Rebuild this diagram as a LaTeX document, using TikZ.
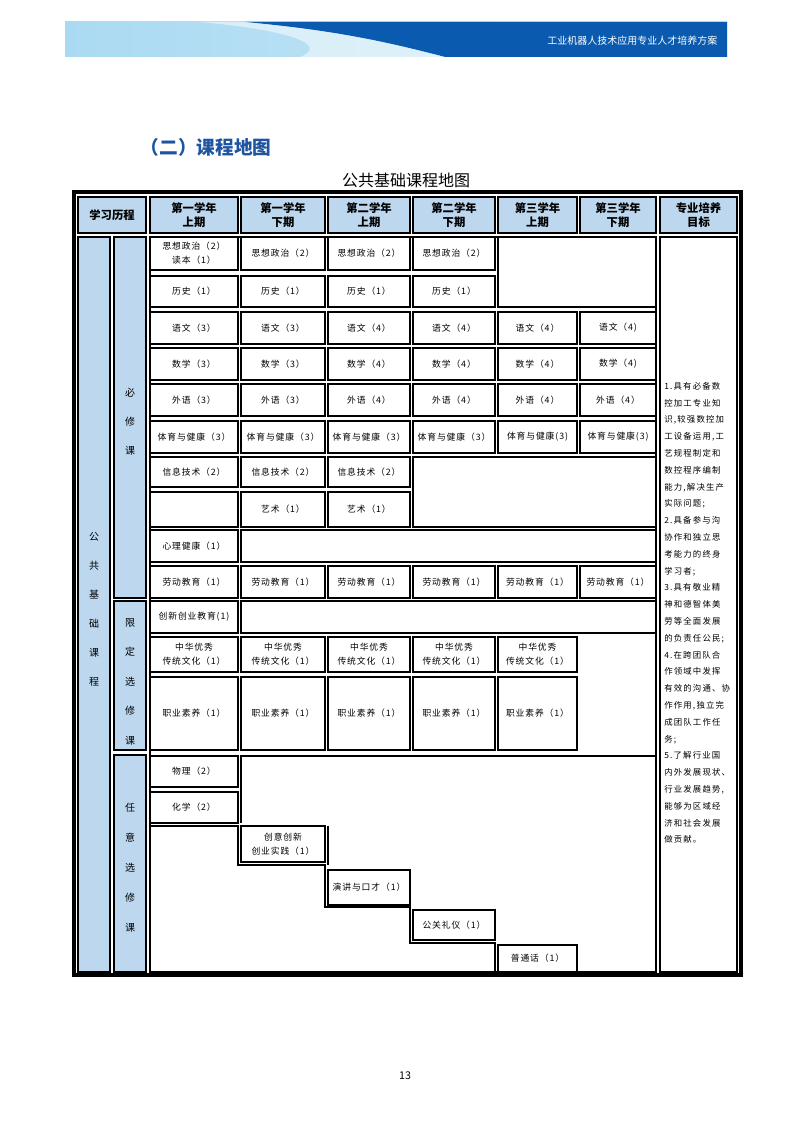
\documentclass[tikz,border=0pt]{standalone}
\usepackage{fontspec}
\setmainfont{Noto Sans CJK SC}
\newfontfamily\cjk{Noto Sans CJK SC}
\newfontfamily\cjksp[LetterSpace=10]{Noto Sans CJK SC}
\newfontfamily\cjkt[LetterSpace=14]{Noto Sans CJK SC}
\definecolor{hdr}{RGB}{189,215,238}
\definecolor{ttl}{RGB}{31,84,160}
\definecolor{dk}{RGB}{10,90,175}
\definecolor{lt}{RGB}{170,218,242}
\tikzset{
 cellbox/.style={draw=black,line width=1.3pt,fill=white,inner sep=0pt,align=center,font=\fontsize{6.6}{10.5}\selectfont\cjksp},
 hdrbox/.style={cellbox,fill=hdr,font=\fontsize{8.5}{10.5}\selectfont\bfseries},
 sidebox/.style={draw=black,line width=1.3pt,fill=hdr},
 sidetxt/.style={font=\fontsize{7.5}{9}\selectfont}
}
\newcommand{\cb}[6][cellbox]{\node[#1,minimum width={(#5-#3)*0.75pt},minimum height={(#6-#4)*0.75pt}] (#2) at ({(#3+#5)/2},{(#4+#6)/2}) {};}
\newcommand{\cbt}[7][cellbox]{\node[#1,minimum width={(#5-#3)*0.75pt},minimum height={(#6-#4)*0.75pt}] (#2) at ({(#3+#5)/2},{(#4+#6)/2}) {#7};}
\begin{document}
\begin{tikzpicture}[x=0.75pt,y=-0.75pt]
\useasboundingbox (0,0) rectangle (794,1123);
% banner
\fill[left color=lt,right color=lt!60] (65,22) rectangle (727,57);
\fill[dk] (245,22) .. controls (330,30) and (380,40) .. (445,57) -- (727,57) -- (727,22) -- cycle;
\fill[white,opacity=0.5] (245,22) .. controls (330,30) and (380,40) .. (445,57) -- (300,57) .. controls (330,45) and (290,30) .. (200,22) -- cycle;
\node[text=white,font=\fontsize{7.5}{9}\selectfont,anchor=east] (ban) at (722,41) {工业机器人技术应用专业人才培养方案};
\node[text=ttl,font=\fontsize{14}{16}\selectfont\bfseries,anchor=west] (t1) at (136,147) {（二）课程地图};
\node[font=\fontsize{12}{14}\selectfont,anchor=center] (t2) at (406,180) {公共基础课程地图};
\node[font=\fontsize{8}{10}\selectfont] (pg) at (405,1076) {13};
% frame
\draw[line width=2.5pt] (74,192) rectangle (741,975);
% header
\cbt[hdrbox]{h0}{78}{197}{146}{233}{学习历程}
\cbt[hdrbox]{h1}{150}{197}{238}{233}{第一学年\\上期}
\cbt[hdrbox]{h2}{241}{197}{325}{233}{第一学年\\下期}
\cbt[hdrbox]{h3}{328}{197}{410}{233}{第二学年\\上期}
\cbt[hdrbox]{h4}{413}{197}{495}{233}{第二学年\\下期}
\cbt[hdrbox]{h5}{498}{197}{577}{233}{第三学年\\上期}
\cbt[hdrbox]{h6}{580}{197}{656}{233}{第三学年\\下期}
\cbt[hdrbox]{h7}{660}{197}{737}{233}{专业培养\\目标}
% side columns
\cb[sidebox]{s0}{78}{237}{110}{972}
\cb[sidebox]{s1}{114}{237}{146}{598}
\cb[sidebox]{s2}{114}{601}{146}{750}
\cb[sidebox]{s3}{114}{755}{146}{972}
\draw[line width=1.3pt] (150,237) rectangle (656,972);
\foreach \c [count=\i] in {公,共,基,础,课,程} \node[sidetxt] (a\i) at (94,{508+29*\i}) {\c};
\foreach \c [count=\i] in {必,修,课} \node[sidetxt] (b\i) at (130,{364+29*\i}) {\c};
\foreach \c [count=\i] in {限,定,选,修,课} \node[sidetxt] (c\i) at (130,{593+29.5*\i}) {\c};
\foreach \c [count=\i] in {任,意,选,修,课} \node[sidetxt] (d\i) at (130,{778+30*\i}) {\c};
% target column
\cb{tg}{660}{237}{737}{972}
\node[anchor=north west,align=left,inner sep=0pt,font=\fontsize{6.3}{12.6}\selectfont\cjkt] (tgt) at (664,382) {1.具有必备数\\控加工专业知\\识,较强数控加\\工设备运用,工\\艺规程制定和\\数控程序编制\\能力,解决生产\\实际问题;\\2.具备参与沟\\协作和独立思\\考能力的终身\\学习者;\\3.具有敬业精\\神和德智体美\\劳等全面发展\\的负责任公民;\\4.在跨团队合\\作领域中发挥\\有效的沟通、协\\作作用,独立完\\成团队工作任\\务;\\5.了解行业国\\内外发展现状、\\行业发展趋势,\\能够为区域经\\济和社会发展\\做贡献。};
% 必修
\cbt{r1a}{150}{237}{238}{270}{思想政治（2）\\读本（1）}
\cbt{r1b}{241}{237}{325}{270}{思想政治（2）}
\cbt{r1c}{328}{237}{410}{270}{思想政治（2）}
\cbt{r1d}{413}{237}{495}{270}{思想政治（2）}
\cb{e1}{498}{237}{656}{307}
\cbt{r2a}{150}{276}{238}{307}{历史（1）}
\cbt{r2b}{241}{276}{325}{307}{历史（1）}
\cbt{r2c}{328}{276}{410}{307}{历史（1）}
\cbt{r2d}{413}{276}{495}{307}{历史（1）}
\foreach \n/\ya/\yb/\ta/\tb/\tc/\td/\te/\tf in {3/312/344/语文（3）/语文（3）/语文（4）/语文（4）/语文（4）/语文（4),4/348/380/数学（3）/数学（3）/数学（4）/数学（4）/数学（4）/数学（4),5/384/416/外语（3）/外语（3）/外语（4）/外语（4）/外语（4）/外语（4）,6/421/453/体育与健康（3）/体育与健康（3）/体育与健康（3）/体育与健康（3）/体育与健康(3)/体育与健康(3)}{
 \cbt{r\n a}{150}{\ya}{238}{\yb}{\ta}
 \cbt{r\n b}{241}{\ya}{325}{\yb}{\tb}
 \cbt{r\n c}{328}{\ya}{410}{\yb}{\tc}
 \cbt{r\n d}{413}{\ya}{495}{\yb}{\td}
 \cbt{r\n e}{498}{\ya}{577}{\yb}{\te}
 \cbt{r\n f}{580}{\ya}{656}{\yb}{\tf}
}
\cbt{r7a}{150}{457}{238}{487}{信息技术（2）}
\cbt{r7b}{241}{457}{325}{487}{信息技术（2）}
\cbt{r7c}{328}{457}{410}{487}{信息技术（2）}
\cb{e7}{413}{457}{656}{527}
\cb{r8a}{150}{492}{238}{527}
\cbt{r8b}{241}{492}{325}{527}{艺术（1）}
\cbt{r8c}{328}{492}{410}{527}{艺术（1）}
\cbt{r9a}{150}{530}{238}{562}{心理健康（1）}
\cb{e9}{241}{530}{656}{562}
\cbt{r10a}{150}{566}{238}{598}{劳动教育（1）}
\cbt{r10b}{241}{566}{325}{598}{劳动教育（1）}
\cbt{r10c}{328}{566}{410}{598}{劳动教育（1）}
\cbt{r10d}{413}{566}{495}{598}{劳动教育（1）}
\cbt{r10e}{498}{566}{577}{598}{劳动教育（1）}
\cbt{r10f}{580}{566}{656}{598}{劳动教育（1）}
% 限定
\cbt{l1a}{150}{601}{238}{633}{创新创业教育(1)}
\cb{el1}{241}{601}{656}{633}
\foreach \k/\x/\xe in {a/150/238,b/241/325,c/328/410,d/413/495,e/498/577}{
 \cbt{l2\k}{\x}{637}{\xe}{672}{中华优秀\\传统文化（1）}
 \cbt{l3\k}{\x}{677}{\xe}{750}{职业素养（1）}
}
% 任意
\cbt{f1}{150}{756}{238}{787}{物理（2）}
\cbt{f2}{150}{792}{238}{823}{化学（2）}
\draw[line width=1.3pt] (241,823) -- (241,756) -- (656,756);
\draw[line width=1.3pt] (150,826) -- (238,826) -- (238,865) -- (325,865) -- (325,907) -- (410,907) -- (410,943) -- (495,943) -- (495,972);
\draw[line width=1.3pt] (328,826) -- (328,865);
\cbt{f3}{241}{826}{325}{862}{创意创新\\创业实践（1）}
\cbt{f4}{328}{870}{410}{905}{演讲与口才（1）}
\cbt{f5}{413}{910}{495}{940}{公关礼仪（1）}
\cbt{f6}{498}{945}{577}{972}{普通话（1）}
\end{tikzpicture}
\end{document}
